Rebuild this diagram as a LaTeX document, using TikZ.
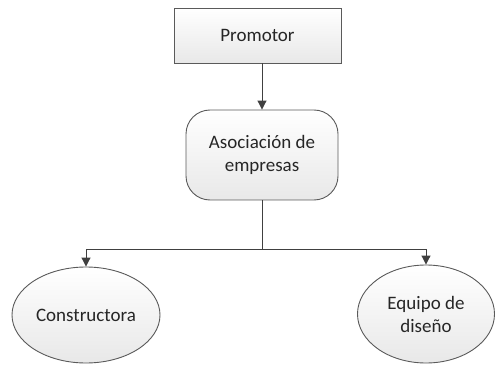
\documentclass[tikz,border=0pt]{standalone}
\usepackage{fontspec}
\setmainfont{Carlito}
\usetikzlibrary{shapes.geometric,arrows.meta}
\definecolor{linec}{HTML}{404040}
\definecolor{edgec}{HTML}{5A5A5A}
\tikzset{
  shapebase/.style={draw=edgec, line width=0.9pt, top color=white, bottom color=black!9, align=center, font=\fontsize{19}{23}\selectfont, text=black!85, inner sep=0pt},
  boxnode/.style={shapebase, rectangle, minimum width=167pt, minimum height=55pt},
  roundnode/.style={shapebase, rectangle, rounded corners=24pt, minimum width=152pt, minimum height=90pt},
  ellnode/.style={shapebase, ellipse},
  conn/.style={draw=linec, line width=1pt, -{Triangle[length=9pt,width=9pt]}},
  plain/.style={draw=linec, line width=1pt}
}
\begin{document}
\begin{tikzpicture}[x=1pt,y=-1pt]
\useasboundingbox (0,0) rectangle (495,366);
\node[boxnode] (prom) at (257.5,35.5) {Promotor};
\node[roundnode] (asoc) at (262,155) {Asociación de\\empresas};
\node[ellnode, minimum width=148pt, minimum height=96pt] (cons) at (86,315) {Constructora};
\node[ellnode, minimum width=137pt, minimum height=98pt] (equi) at (426,314) {Equipo de\\diseño};
\coordinate (jn) at (262,249);
\draw[conn] (prom.south -| asoc.north) -- (asoc.north);
\draw[plain] (asoc.south) -- (jn);
\draw[conn] (jn) -| (cons.north);
\draw[conn] (jn) -| (equi.north);
\end{tikzpicture}
\end{document}
